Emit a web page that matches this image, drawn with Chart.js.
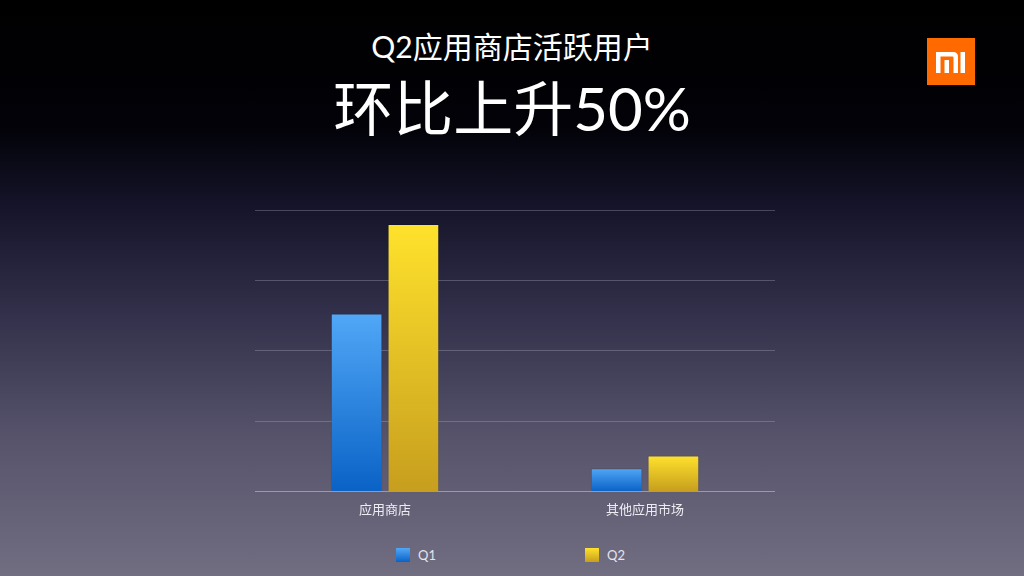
<!DOCTYPE html>
<html>
<head>
<meta charset="utf-8">
<script src="https://cdn.jsdelivr.net/npm/chart.js@4/dist/chart.umd.min.js"></script>
<style>
  html, body { margin: 0; padding: 0; }
  body {
    width: 1024px; height: 576px; overflow: hidden; position: relative;
    background: linear-gradient(to bottom, #000 0%, #020208 22%, #15142a 36%, #33314b 55%, #56536b 76%, #716e82 100%);
    font-family: 'Lato', 'Noto Sans CJK SC', sans-serif;
    color: #fff;
  }
  .sub { position: absolute; top: 26px; left: 0; width: 1024px; text-align: center; font-size: 30px; line-height: 40px; }
  .big { position: absolute; top: 70px; left: 0; width: 1024px; text-align: center; font-size: 60px; line-height: 76px; }
  .logo { position: absolute; left: 927px; top: 38px; width: 48px; height: 47px; }
  #wrap { position: absolute; left: 255px; top: 200px; width: 520px; height: 321px; }
  #legend { position: absolute; top: 547px; left: 0; width: 1024px; height: 20px; font-size: 13px; color: #e4e4ec; }
  .item { position: absolute; top: 0; display: flex; align-items: center; }
  .box { width: 14px; height: 14px; margin-right: 8px; }
</style>
</head>
<body>
<div class="sub">Q2应用商店活跃用户</div>
<div class="big">环比上升50%</div>
<svg class="logo" viewBox="0 0 48 47">
  <rect x="0" y="0" width="48" height="47" fill="#ff6a00"/>
  <path d="M9 14 H26 Q31 14 31 19 V35 H26.5 V19.5 Q26.5 18.5 25.5 18.5 H13.5 V35 H9 Z" fill="#fff"/>
  <rect x="17.5" y="22" width="4.5" height="13" fill="#fff"/>
  <rect x="33.5" y="14" width="4.5" height="21" fill="#fff"/>
</svg>
<div id="wrap"><canvas id="chart"></canvas></div>
<div id="legend"></div>
<script>
const categories = ['应用商店', '其他应用市场'];
const seriesNames = ['Q1', 'Q2'];
const q1Values = [2.53, 0.33];
const q2Values = [3.80, 0.51];
const yTicks = [0, 1, 2, 3, 4];

const palette = {
    Q1: ['#51a8f7', '#0a62c6'],
    Q2: ['#ffe22c', '#c79e1e']
};

function barGradient(colors) {
    return function(context) {
        const chart = context.chart;
        if (!chart.chartArea || context.raw === undefined) return colors[0];
        const y = chart.scales.y;
        const top = y.getPixelForValue(context.raw);
        const bottom = y.getPixelForValue(0);
        const g = chart.ctx.createLinearGradient(0, top, 0, bottom);
        g.addColorStop(0, colors[0]);
        g.addColorStop(1, colors[1]);
        return g;
    };
}

Chart.defaults.font.family = "'Lato', 'Noto Sans CJK SC', sans-serif";
Chart.defaults.color = '#e4e4ec';

const chart = new Chart(document.getElementById('chart').getContext('2d'), {
    type: 'bar',
    data: {
        labels: categories,
        datasets: [
            {
                label: seriesNames[0],
                data: q1Values,
                backgroundColor: barGradient(palette.Q1),
                borderColor: 'rgba(0,0,0,0.12)',
                borderWidth: 1,
                categoryPercentage: 0.437,
                barPercentage: 0.91
            },
            {
                label: seriesNames[1],
                data: q2Values,
                backgroundColor: barGradient(palette.Q2),
                borderColor: 'rgba(0,0,0,0.12)',
                borderWidth: 1,
                categoryPercentage: 0.437,
                barPercentage: 0.91
            }
        ]
    },
    options: {
        responsive: true,
        maintainAspectRatio: false,
        animation: false,
        layout: { padding: { top: 10, left: 0, right: 0, bottom: 0 } },
        scales: {
            x: {
                grid: { display: false },
                border: { color: 'rgba(190,190,210,0.45)' },
                ticks: { font: { size: 13 }, color: '#ececf2', padding: 3 }
            },
            y: {
                min: yTicks[0],
                max: yTicks[yTicks.length - 1],
                afterBuildTicks: function(axis) {
                    axis.ticks = yTicks.map(v => ({ value: v }));
                },
                grid: { color: 'rgba(190,190,210,0.3)', drawTicks: false },
                border: { display: false },
                ticks: { display: false }
            }
        },
        plugins: {
            legend: { display: false },
            tooltip: { enabled: false }
        }
    }
});

const legendPos = [396, 585];
const legendDiv = document.getElementById('legend');
chart.data.datasets.forEach((ds, i) => {
    const c = palette[ds.label];
    legendDiv.innerHTML += `
        <div class="item" style="left:${legendPos[i]}px">
            <div class="box" style="background:linear-gradient(${c[0]}, ${c[1]})"></div>
            <span>${ds.label}</span>
        </div>`;
});
</script>
</body>
</html>
